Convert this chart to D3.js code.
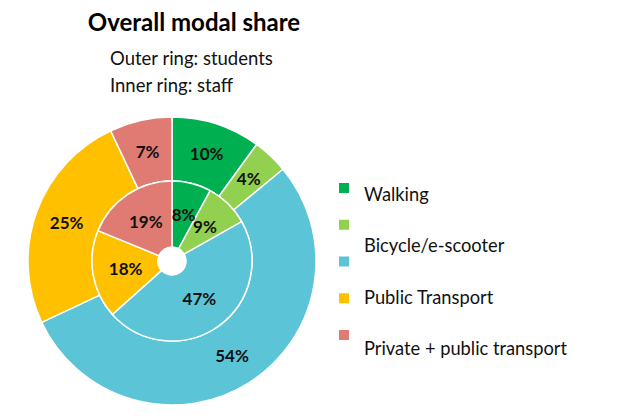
<!DOCTYPE html>
<html>
<head>
<meta charset="utf-8">
<script src="https://cdn.jsdelivr.net/npm/d3@7"></script>
<style>
  body { margin: 0; background: #fff; }
  text { font-family: Lato, "Open Sans", sans-serif; }
</style>
</head>
<body>
<svg id="chart" width="636" height="420"></svg>
<script>
// categories and colours
var modes = ["Walking", "Cycling", "Bicycle/e-scooter", "Public Transport", "Private + public transport"];
var colors = ["#00b050", "#92d050", "#5bc4d6", "#ffc000", "#df7b73"];

// outer ring: students, inner ring: staff (percent)
var students = [10, 4, 54, 25, 7];
var staff = [8, 9, 47, 18, 19];

// legend texts (as printed, one row short of the swatches)
var legendLabels = ["Walking", "Bicycle/e-scooter", "Public Transport", "Private + public transport"];

var svg = d3.select("#chart");

var cx = 172, cy = 261;
var rHole = 14, rMid = 80, rOuter = 144;

var color = d3.scaleOrdinal().domain(modes).range(colors);

var pie = d3.pie().sort(null).value(function(d) { return d.value; });

function rows(values) {
  return values.map(function(v, i) { return {mode: modes[i], value: v}; });
}

var g = svg.append("g").attr("transform", "translate(" + cx + "," + cy + ")");

/* Draw one ring */
function ring(values, r0, r1, cls) {
  var arc = d3.arc().innerRadius(r0).outerRadius(r1);
  var slices = pie(rows(values));

  g.selectAll("path." + cls)
    .data(slices)
    .enter().append("path")
    .attr("class", cls)
    .attr("d", arc)
    .attr("fill", function(d) { return color(d.data.mode); })
    .attr("stroke", "#fff")
    .attr("stroke-width", 1.5);

  g.selectAll("text." + cls)
    .data(slices)
    .enter().append("text")
    .attr("class", cls)
    .attr("transform", function(d) { return "translate(" + arc.centroid(d) + ")"; })
    .attr("text-anchor", "middle")
    .attr("dy", "0.35em")
    .attr("font-size", 17)
    .attr("font-weight", "bold")
    .attr("fill", "#111")
    .text(function(d) { return d.data.value + "%"; });
}

ring(students, rMid, rOuter, "outer");
ring(staff, rHole, rMid, "inner");

/* Titles */
svg.append("text")
  .attr("x", 194).attr("y", 31)
  .attr("text-anchor", "middle")
  .attr("font-size", 24)
  .attr("font-weight", "bold")
  .attr("fill", "#000")
  .text("Overall modal share");

svg.append("text")
  .attr("x", 110).attr("y", 65)
  .attr("font-size", 18.5)
  .attr("fill", "#111")
  .text("Outer ring: students");

svg.append("text")
  .attr("x", 110).attr("y", 92)
  .attr("font-size", 18.5)
  .attr("fill", "#111")
  .text("Inner ring: staff");

/* Legend */
var swatchY = d3.scalePoint().domain(modes).range([188, 335]);
var labelY = d3.scalePoint().domain(legendLabels).range([201, 355]);

svg.selectAll("rect.swatch")
  .data(modes)
  .enter().append("rect")
  .attr("class", "swatch")
  .attr("x", 339)
  .attr("y", function(d) { return swatchY(d) - 5; })
  .attr("width", 10)
  .attr("height", 10)
  .attr("fill", function(d) { return color(d); });

svg.selectAll("text.legend")
  .data(legendLabels)
  .enter().append("text")
  .attr("class", "legend")
  .attr("x", 364)
  .attr("y", function(d) { return labelY(d); })
  .attr("font-size", 18.3)
  .attr("fill", "#111")
  .text(function(d) { return d; });
</script>
</body>
</html>
